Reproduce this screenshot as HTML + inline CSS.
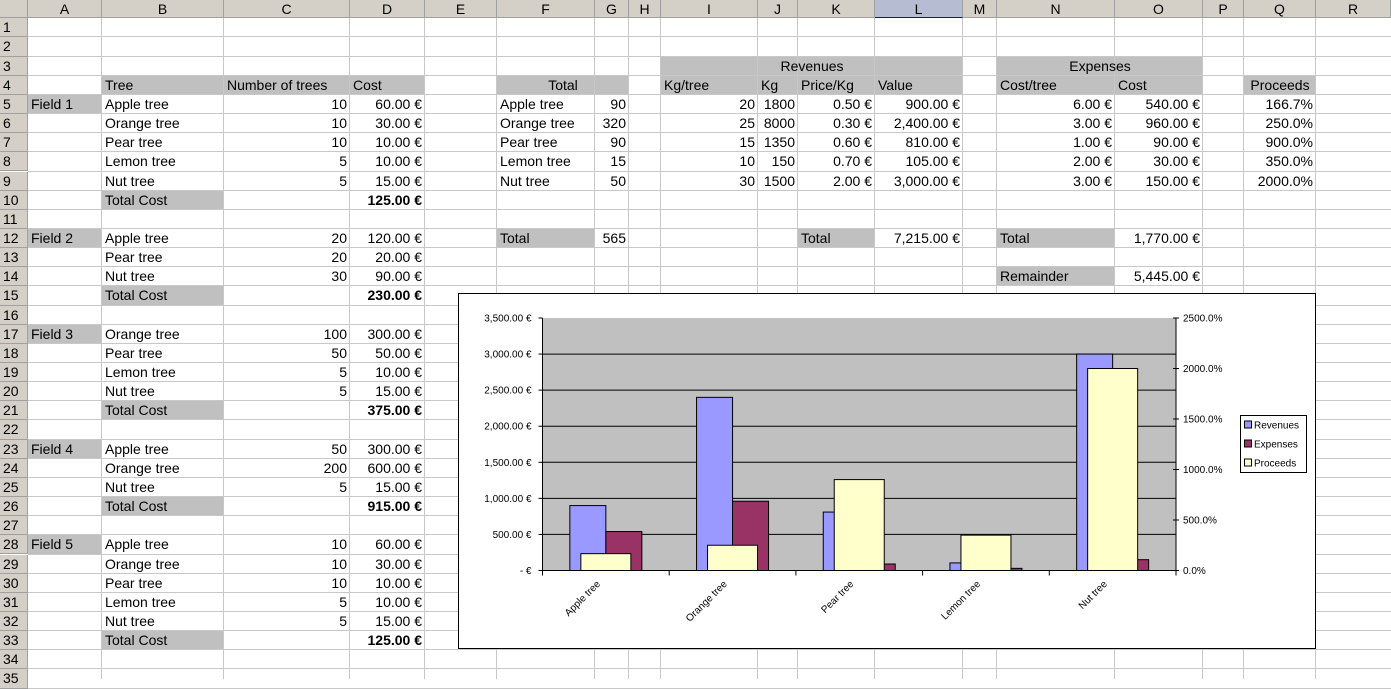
<!DOCTYPE html>
<html><head><meta charset="utf-8">
<style>
body{margin:0;width:1391px;height:679px;overflow:hidden;background:#fff;font-family:"Liberation Sans",Arial,sans-serif;position:relative}
.c{position:absolute;box-sizing:border-box;font-size:14px;line-height:19px;white-space:nowrap;overflow:visible;padding:0 3px;color:#000}
.h{position:absolute;box-sizing:border-box;background:#d4d0c8;font-size:14px;text-align:center;color:#000;border-right:1px solid #a0a0a0;border-bottom:1px solid #a0a0a0;line-height:18px}
.vl{position:absolute;top:18px;width:1px;height:661px;background:#c8c8c8}
.hl{position:absolute;left:28px;height:1px;width:1363px;background:#c8c8c8}
.g{position:absolute;background:#c0c0c0}
</style></head><body>
<div id="sheet"></div>
<svg id="chart" style="position:absolute;left:458px;top:293px" width="858" height="356" font-family="Liberation Sans, Arial, sans-serif"></svg>
<script>
const colEdges=[28,102,224,350,425,497,595,629,661,758,798,875,963,997,1115,1203,1244,1316,1391];
const colNames="ABCDEFGHIJKLMNOPQR".split("");
const RT=18.3, RH=19.15;
function rt(r){return RT+(r-1)*RH;}
const sheet=document.getElementById('sheet');
function mk(cls,css){const d=document.createElement('div');d.className=cls;d.style.cssText=css;sheet.appendChild(d);return d;}
// gray fills [c1,c2,row] (col indices 0=A)
const fills=[[1,3,4],[0,0,5],[1,1,10],[0,0,12],[1,1,15],[0,0,17],[1,1,21],[0,0,23],[1,1,26],[0,0,28],[1,1,33],
[5,6,4],[8,11,3],[8,11,4],[13,14,3],[13,14,4],[16,16,4],[5,5,12],[10,10,12],[13,13,12],[13,13,14]];
fills.forEach(f=>{const d=mk('g',`left:${colEdges[f[0]]}px;top:${rt(f[2])}px;width:${colEdges[f[1]+1]-colEdges[f[0]]}px;height:${RH}px`);

});
for(let i=1;i<colEdges.length-1;i++){const d=mk('vl',`left:${colEdges[i]-1}px`);

}
for(let r=2;r<=36;r++){const d=mk('hl',`top:${rt(r)-1}px`);

}
// headers
const corner=mk('h','left:0;top:0;width:28px;height:18px');


colNames.forEach((n,i)=>{const d=mk('h',`left:${colEdges[i]}px;top:0;width:${colEdges[i+1]-colEdges[i]}px;height:18px`+(n==='L'?';background:#b6bdd2;border-bottom:1px solid #0a246a':''));d.textContent=n;

});
for(let r=1;r<=35;r++){const d=mk('h',`left:0;top:${rt(r)}px;width:28px;height:${RH}px;text-align:left;padding-left:3px;line-height:${RH}px`);d.textContent=r;

}
// cells: [colLetter,row,text,align,bold,span]
const cells=[
['B',4,'Tree'],['C',4,'Number of trees'],['D',4,'Cost'],
['F',4,'Total','c',0,2],['I',3,'Revenues','c',0,4],['I',4,'Kg/tree'],['J',4,'Kg'],['K',4,'Price/Kg'],['L',4,'Value'],
['N',3,'Expenses','c',0,2],['N',4,'Cost/tree'],['O',4,'Cost'],['Q',4,'Proceeds','c'],
['A',5,'Field 1'],['A',12,'Field 2'],['A',17,'Field 3'],['A',23,'Field 4'],['A',28,'Field 5'],
['B',5,'Apple tree'],['C',5,'10','r'],['D',5,'60.00 €','r'],
['B',6,'Orange tree'],['C',6,'10','r'],['D',6,'30.00 €','r'],
['B',7,'Pear tree'],['C',7,'10','r'],['D',7,'10.00 €','r'],
['B',8,'Lemon tree'],['C',8,'5','r'],['D',8,'10.00 €','r'],
['B',9,'Nut tree'],['C',9,'5','r'],['D',9,'15.00 €','r'],
['B',10,'Total Cost'],['D',10,'125.00 €','r',1],
['B',12,'Apple tree'],['C',12,'20','r'],['D',12,'120.00 €','r'],
['B',13,'Pear tree'],['C',13,'20','r'],['D',13,'20.00 €','r'],
['B',14,'Nut tree'],['C',14,'30','r'],['D',14,'90.00 €','r'],
['B',15,'Total Cost'],['D',15,'230.00 €','r',1],
['B',17,'Orange tree'],['C',17,'100','r'],['D',17,'300.00 €','r'],
['B',18,'Pear tree'],['C',18,'50','r'],['D',18,'50.00 €','r'],
['B',19,'Lemon tree'],['C',19,'5','r'],['D',19,'10.00 €','r'],
['B',20,'Nut tree'],['C',20,'5','r'],['D',20,'15.00 €','r'],
['B',21,'Total Cost'],['D',21,'375.00 €','r',1],
['B',23,'Apple tree'],['C',23,'50','r'],['D',23,'300.00 €','r'],
['B',24,'Orange tree'],['C',24,'200','r'],['D',24,'600.00 €','r'],
['B',25,'Nut tree'],['C',25,'5','r'],['D',25,'15.00 €','r'],
['B',26,'Total Cost'],['D',26,'915.00 €','r',1],
['B',28,'Apple tree'],['C',28,'10','r'],['D',28,'60.00 €','r'],
['B',29,'Orange tree'],['C',29,'10','r'],['D',29,'30.00 €','r'],
['B',30,'Pear tree'],['C',30,'10','r'],['D',30,'10.00 €','r'],
['B',31,'Lemon tree'],['C',31,'5','r'],['D',31,'10.00 €','r'],
['B',32,'Nut tree'],['C',32,'5','r'],['D',32,'15.00 €','r'],
['B',33,'Total Cost'],['D',33,'125.00 €','r',1],
['F',5,'Apple tree'],['G',5,'90','r'],['F',6,'Orange tree'],['G',6,'320','r'],['F',7,'Pear tree'],['G',7,'90','r'],
['F',8,'Lemon tree'],['G',8,'15','r'],['F',9,'Nut tree'],['G',9,'50','r'],['F',12,'Total'],['G',12,'565','r'],
['I',5,'20','r'],['J',5,'1800','r'],['K',5,'0.50 €','r'],['L',5,'900.00 €','r'],
['I',6,'25','r'],['J',6,'8000','r'],['K',6,'0.30 €','r'],['L',6,'2,400.00 €','r'],
['I',7,'15','r'],['J',7,'1350','r'],['K',7,'0.60 €','r'],['L',7,'810.00 €','r'],
['I',8,'10','r'],['J',8,'150','r'],['K',8,'0.70 €','r'],['L',8,'105.00 €','r'],
['I',9,'30','r'],['J',9,'1500','r'],['K',9,'2.00 €','r'],['L',9,'3,000.00 €','r'],
['K',12,'Total'],['L',12,'7,215.00 €','r'],
['N',5,'6.00 €','r'],['O',5,'540.00 €','r'],['Q',5,'166.7%','r'],
['N',6,'3.00 €','r'],['O',6,'960.00 €','r'],['Q',6,'250.0%','r'],
['N',7,'1.00 €','r'],['O',7,'90.00 €','r'],['Q',7,'900.0%','r'],
['N',8,'2.00 €','r'],['O',8,'30.00 €','r'],['Q',8,'350.0%','r'],
['N',9,'3.00 €','r'],['O',9,'150.00 €','r'],['Q',9,'2000.0%','r'],
['N',12,'Total'],['O',12,'1,770.00 €','r'],['N',14,'Remainder'],['O',14,'5,445.00 €','r']];
cells.forEach(c=>{const ci=colNames.indexOf(c[0]);const sp=c[5]||1;
const d=mk('c',`left:${colEdges[ci]}px;top:${rt(c[1])}px;width:${colEdges[ci+sp]-colEdges[ci]}px;height:${RH}px;text-align:${c[3]==='r'?'right':c[3]==='c'?'center':'left'};${c[4]?'font-weight:bold;':''}`);
d.textContent=c[2];

});
</script>
<script>
const categories=['Apple tree','Orange tree','Pear tree','Lemon tree','Nut tree'];
const revenues=[900,2400,810,105,3000];
const expenses=[540,960,90,30,150];
const proceeds=[166.7,250,900,350,2000];
const leftTicks=[0,500,1000,1500,2000,2500,3000,3500];
const leftTickLabels=['-    €','500.00 €','1,000.00 €','1,500.00 €','2,000.00 €','2,500.00 €','3,000.00 €','3,500.00 €'];
const rightTicks=[0,500,1000,1500,2000,2500];
const rightTickLabels=['0.0%','500.0%','1000.0%','1500.0%','2000.0%','2500.0%'];
const seriesNames=['Revenues','Expenses','Proceeds'];
const seriesColors=['#9999ff','#993366','#ffffcc'];
const svg=document.getElementById('chart');
const NS='http://www.w3.org/2000/svg';
const X0=84.5,X1=718,YT=25,YB=277.5;
const yL=v=>YB-(v/3500)*(YB-YT);
const yR=v=>YB-(v/2500)*(YB-YT);
const bw=(X1-X0)/categories.length;
const cx=i=>X0+bw*(i+0.5);
function el(t,a,name){const e=document.createElementNS(NS,t);for(const k in a)e.setAttribute(k,a[k]);svg.appendChild(e);

return e;}
el('rect',{x:0.5,y:0.5,width:857,height:355,fill:'#fff',stroke:'#000'},'chart-area');
el('rect',{x:X0,y:YT,width:X1-X0,height:YB-YT,fill:'#c0c0c0'},'plot-area');
leftTicks.forEach((t,i)=>{const y=yL(t);
if(t>0&&t<3500)el('line',{x1:X0,x2:X1,y1:y,y2:y,stroke:'#000'},'gridline');
el('line',{x1:X0-4,x2:X0,y1:y,y2:y,stroke:'#000'},'left-tick');
const tx=el('text',{x:X0-11,y:y+3.5,'font-size':10,'text-anchor':'end'},'left-tick-label');tx.textContent=leftTickLabels[i];});
rightTicks.forEach((t,i)=>{const y=yR(t);
el('line',{x1:X1-3,x2:X1+3,y1:y,y2:y,stroke:'#000'},'right-tick');
const tx=el('text',{x:X1+7,y:y+3.5,'font-size':10},'right-tick-label');tx.textContent=rightTickLabels[i];});
categories.forEach((c,i)=>{const w=36,pw=50;
el('rect',{x:cx(i)-w,y:yL(revenues[i]),width:w,height:YB-yL(revenues[i]),fill:seriesColors[0],stroke:'#000'},'bar-revenues');
el('rect',{x:cx(i),y:yL(expenses[i]),width:w,height:YB-yL(expenses[i]),fill:seriesColors[1],stroke:'#000'},'bar-expenses');});
categories.forEach((c,i)=>{const pw=50;
el('rect',{x:cx(i)-pw/2,y:yR(proceeds[i]),width:pw,height:YB-yR(proceeds[i]),fill:seriesColors[2],stroke:'#000'},'bar-proceeds');
el('line',{x1:X0+bw*i,x2:X0+bw*i,y1:YB,y2:YB+5,stroke:'#000'},'category-tick');
const tx=el('text',{x:cx(i)-5,y:YB+14,'font-size':10,'text-anchor':'end',transform:`rotate(-45 ${cx(i)-5} ${YB+14})`},'category-label');tx.textContent=c;});
el('line',{x1:X1,x2:X1,y1:YB,y2:YB+5,stroke:'#000'},'category-tick');
el('line',{x1:X0,x2:X0,y1:YT,y2:YB,stroke:'#000'},'left-axis');
el('line',{x1:X1,x2:X1,y1:YT,y2:YB,stroke:'#000'},'right-axis');
el('line',{x1:X0,x2:X1,y1:YB,y2:YB,stroke:'#000'},'x-axis');
el('rect',{x:782.5,y:122.5,width:66,height:57,fill:'#fff',stroke:'#000'},'legend');
seriesNames.forEach((n,i)=>{const y=132+i*19;
el('rect',{x:786.5,y:y-4,width:7,height:7,fill:seriesColors[i],stroke:'#000'},'legend-swatch');
const tx=el('text',{x:796,y:y+3.5,'font-size':10},'legend-entry');tx.textContent=n;});
</script>
</body></html>
